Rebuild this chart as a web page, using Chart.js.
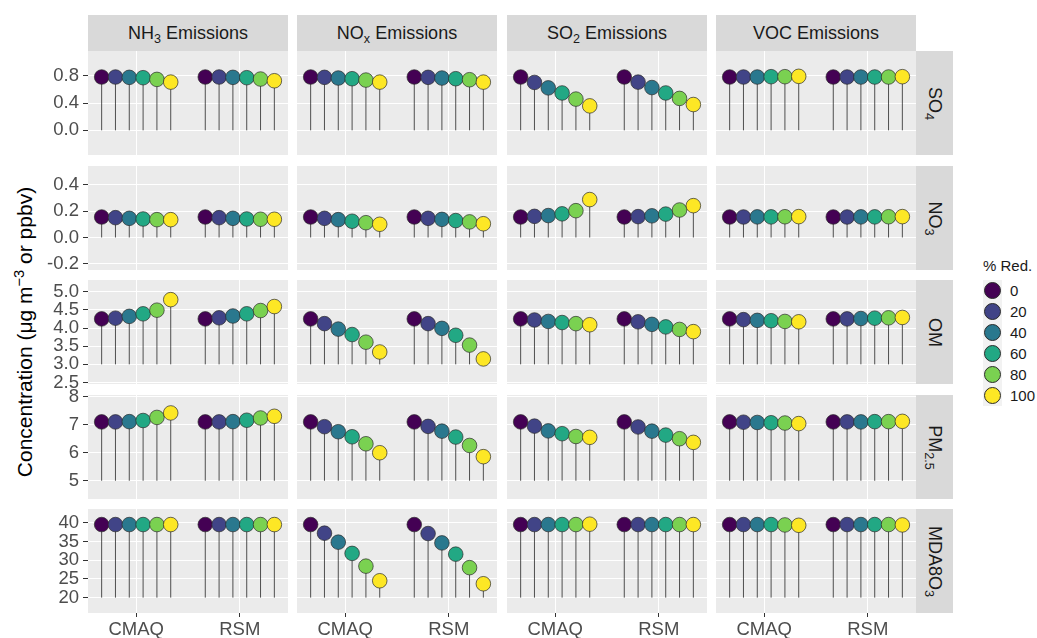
<!DOCTYPE html>
<html>
<head>
<meta charset="utf-8">
<script src="https://cdn.jsdelivr.net/npm/chart.js@4.4.1/dist/chart.umd.min.js"></script>
<style>
  body { margin: 0; background: #fff; font-family: "Liberation Sans", Arial, sans-serif; }
  #wrap { position: relative; width: 1037px; height: 638px; overflow: hidden; }
  canvas { position: absolute; }
  .strip { position: absolute; background: #D9D9D9; color: #1A1A1A; font-size: 18px;
           display: flex; align-items: center; justify-content: center; white-space: nowrap; }
  .strip sub { font-size: 70%; vertical-align: -0.3em; line-height: 0; }
  .strip span { display: inline-block; }
  .rstrip span { transform: rotate(90deg); }
  #ytitle { position: absolute; left: 25px; top: 332px; transform: translate(-50%, -50%) rotate(-90deg);
            font-size: 21px; color: #000; white-space: nowrap; }
  #ytitle sup { font-size: 70%; vertical-align: 0.55em; line-height: 0; }
  #legend { position: absolute; left: 983px; top: 257px; color: #1A1A1A; }
  #legend .title { font-size: 15px; height: 23px; }
  #legend .row { display: flex; align-items: center; height: 21px; }
  #legend .key { width: 19px; height: 21px; background: #F2F2F2; display: flex; align-items: center; justify-content: center; }
  #legend .dot { width: 15px; height: 15px; border-radius: 50%; border: 0.7px solid #2b2b2b; }
  #legend .lab { font-size: 15px; margin-left: 8px; }
</style>
</head>
<body>
<div id="wrap">
  <div id="ytitle">Concentration (μg m<sup>−3</sup> or ppbv)</div>
  <div id="legend"><div class="title">% Red.</div></div>
</div>
<script>
const reductions = [0, 20, 40, 60, 80, 100];
const colors = ['#440154', '#414487', '#2A788E', '#22A884', '#7AD151', '#FDE725'];
const models = ['CMAQ', 'RSM'];
const emissions = ['NH<sub>3</sub> Emissions', 'NO<sub>x</sub> Emissions', 'SO<sub>2</sub> Emissions', 'VOC Emissions'];
const species = ['SO<sub>4</sub>', 'NO<sub>3</sub>', 'OM', 'PM<sub>2.5</sub>', 'MDA8O<sub>3</sub>'];

// each row: NH3 CMAQ, NH3 RSM, NOx CMAQ, NOx RSM, SO2 CMAQ, SO2 RSM, VOC CMAQ, VOC RSM
const so4 = [
  [0.785, 0.785, 0.78, 0.775, 0.75, 0.71],
  [0.785, 0.785, 0.78, 0.775, 0.755, 0.73],
  [0.785, 0.78, 0.77, 0.76, 0.74, 0.71],
  [0.785, 0.78, 0.77, 0.76, 0.745, 0.71],
  [0.785, 0.705, 0.625, 0.55, 0.46, 0.36],
  [0.785, 0.71, 0.63, 0.55, 0.47, 0.38],
  [0.785, 0.785, 0.785, 0.79, 0.79, 0.795],
  [0.785, 0.785, 0.785, 0.785, 0.785, 0.79]
];
const no3 = [
  [0.155, 0.15, 0.145, 0.14, 0.135, 0.135],
  [0.155, 0.15, 0.145, 0.14, 0.138, 0.138],
  [0.155, 0.145, 0.135, 0.123, 0.112, 0.1],
  [0.155, 0.145, 0.137, 0.128, 0.118, 0.104],
  [0.155, 0.16, 0.166, 0.179, 0.203, 0.287],
  [0.155, 0.158, 0.164, 0.177, 0.208, 0.241],
  [0.155, 0.155, 0.156, 0.156, 0.157, 0.158],
  [0.155, 0.155, 0.156, 0.156, 0.157, 0.158]
];
const om = [
  [4.25, 4.27, 4.32, 4.39, 4.49, 4.78],
  [4.25, 4.28, 4.33, 4.39, 4.48, 4.59],
  [4.25, 4.12, 3.97, 3.82, 3.61, 3.34],
  [4.25, 4.12, 3.99, 3.8, 3.53, 3.15],
  [4.25, 4.22, 4.18, 4.15, 4.12, 4.09],
  [4.25, 4.17, 4.1, 4.03, 3.96, 3.9],
  [4.25, 4.23, 4.21, 4.2, 4.18, 4.17],
  [4.25, 4.25, 4.26, 4.27, 4.28, 4.29]
];
const pm25 = [
  [7.1, 7.1, 7.11, 7.15, 7.26, 7.42],
  [7.1, 7.1, 7.11, 7.16, 7.24, 7.3],
  [7.1, 6.93, 6.75, 6.57, 6.32, 6.0],
  [7.1, 6.94, 6.77, 6.56, 6.26, 5.86],
  [7.1, 6.95, 6.78, 6.68, 6.58, 6.55],
  [7.1, 6.92, 6.77, 6.63, 6.5, 6.37],
  [7.1, 7.09, 7.08, 7.07, 7.06, 7.04],
  [7.1, 7.1, 7.1, 7.11, 7.11, 7.12]
];
const mda8o3 = [
  [39.5, 39.5, 39.5, 39.5, 39.5, 39.5],
  [39.5, 39.5, 39.5, 39.5, 39.5, 39.5],
  [39.5, 37.2, 34.8, 31.8, 28.4, 24.5],
  [39.5, 37.1, 34.6, 31.6, 28.0, 23.7],
  [39.5, 39.5, 39.5, 39.5, 39.5, 39.6],
  [39.5, 39.5, 39.5, 39.5, 39.5, 39.5],
  [39.5, 39.5, 39.5, 39.5, 39.4, 39.3],
  [39.5, 39.5, 39.5, 39.5, 39.5, 39.4]
];

const yTicks = [[0, 0.4, 0.8], [-0.2, 0, 0.2, 0.4], [2.5, 3, 3.5, 4, 4.5, 5], [5, 6, 7, 8], [20, 25, 30, 35, 40]];
const yLabels = [['0.0', '0.4', '0.8'], ['-0.2', '0.0', '0.2', '0.4'], ['2.5', '3.0', '3.5', '4.0', '4.5', '5.0'], ['5', '6', '7', '8'], ['20', '25', '30', '35', '40']];
const stemBase = [0, 0, 3, 5, 20];

// layout
const rows = [so4, no3, om, pm25, mda8o3];
const yRange = [[-0.363, 1.168], [-0.246, 0.541], [2.46, 5.32], [4.35, 8.06], [15.9, 43.65]];
const colLeft = [88, 297, 507, 716];
const rowTop = [51, 166, 280, 395, 509];
const panelW = 200, panelH = 104;
const dodge = 0.8;
const font = "'Liberation Sans', Arial, sans-serif";

const wrap = document.getElementById('wrap');

const panelBg = {
  id: 'panelBg',
  beforeDraw(chart) {
    const { ctx, chartArea: a } = chart;
    ctx.save();
    ctx.fillStyle = '#EBEBEB';
    ctx.fillRect(a.left, a.top, a.width, a.height);
    ctx.restore();
  }
};

// strips
emissions.forEach((t, c) => {
  const d = document.createElement('div');
  d.className = 'strip';
  d.style.cssText = `left:${colLeft[c]}px;top:15px;width:${panelW}px;height:36px;`;
  d.innerHTML = `<span>${t}</span>`;
  wrap.appendChild(d);
});
species.forEach((t, r) => {
  const d = document.createElement('div');
  d.className = 'strip rstrip';
  d.style.cssText = `left:${colLeft[3] + panelW}px;top:${rowTop[r]}px;width:37px;height:${panelH}px;`;
  d.innerHTML = `<span>${t}</span>`;
  wrap.appendChild(d);
});

rows.forEach((rowData, r) => {
  emissions.forEach((em, c) => {
    const first = c === 0, last = r === rows.length - 1;
    const axisW = first ? 88 : 0, axisH = last ? 25 : 0;
    const padT = 12, padB = last ? 0 : 12;
    const cv = document.createElement('canvas');
    cv.width = panelW + axisW;
    cv.height = padT + panelH + axisH + padB;
    cv.style.left = (colLeft[c] - axisW) + 'px';
    cv.style.top = (rowTop[r] - padT) + 'px';
    wrap.appendChild(cv);

    const pts = [], bg = [], stems = [];
    models.forEach((m, k) => {
      rowData[c * 2 + k].forEach((v, i) => {
        const x = k + 1 + (i - 2.5) * dodge / 6;
        pts.push({ x: x, y: v });
        bg.push(colors[i]);
        stems.push({ x: x, y: stemBase[r] }, { x: x, y: v }, { x: x, y: null });
      });
    });

    new Chart(cv, {
      type: 'scatter',
      data: {
        datasets: [
          { type: 'line', data: stems, borderColor: 'rgba(25,25,25,0.75)', borderWidth: 1,
            pointRadius: 0, spanGaps: false, order: 2 },
          { data: pts, backgroundColor: bg, borderColor: '#2b2b2b', borderWidth: 0.7,
            pointRadius: 7.3, pointHoverRadius: 7.3, order: 1 }
        ]
      },
      options: {
        responsive: false,
        animation: false,
        events: [],
        layout: { autoPadding: false, padding: { top: padT, bottom: padB, left: 0, right: 0 } },
        plugins: { legend: { display: false }, tooltip: { enabled: false } },
        scales: {
          x: {
            type: 'linear', min: 0.535, max: 2.465,
            afterBuildTicks: s => { s.ticks = [1, 2].map(v => ({ value: v })); },
            afterFit: s => { s.height = axisH; s.paddingLeft = 0; s.paddingRight = 0; },
            border: { display: false },
            grid: { color: '#FFFFFF', lineWidth: 1, drawTicks: last, tickLength: 4, tickColor: '#333333' },
            ticks: { display: last, autoSkip: false, maxRotation: 0, padding: 2, color: '#4D4D4D',
                     font: { family: font, size: 18.5 }, callback: (v, i) => models[i] }
          },
          y: {
            min: yRange[r][0], max: yRange[r][1],
            afterBuildTicks: s => { s.ticks = yTicks[r].map(v => ({ value: v })); },
            afterFit: s => { s.width = axisW; s.paddingTop = 0; s.paddingBottom = 0; },
            border: { display: false },
            grid: { color: '#FFFFFF', lineWidth: 1, drawTicks: first, tickLength: 5, tickColor: '#333333' },
            ticks: { display: first, autoSkip: false, padding: 4, color: '#4D4D4D',
                     font: { family: font, size: 18.5 }, callback: (v, i) => yLabels[r][i] }
          }
        }
      },
      plugins: [panelBg]
    });
  });
});

// legend
const legend = document.getElementById('legend');
reductions.forEach((red, i) => {
  const row = document.createElement('div');
  row.className = 'row';
  row.innerHTML = `<span class="key"><span class="dot" style="background:${colors[i]}"></span></span><span class="lab">${red}</span>`;
  legend.appendChild(row);
});
</script>
</body>
</html>
